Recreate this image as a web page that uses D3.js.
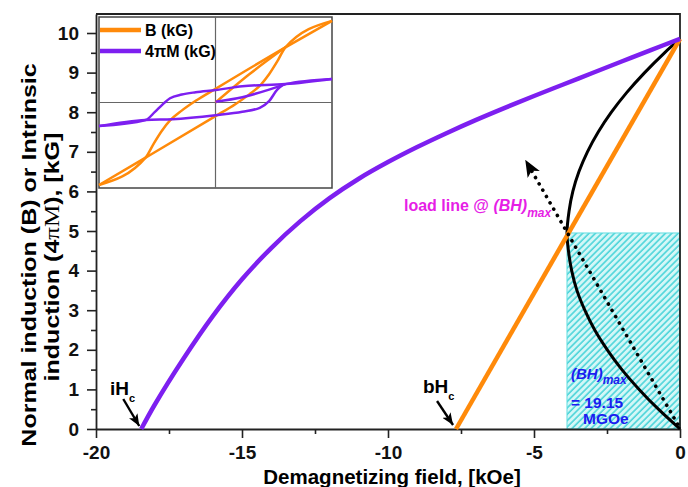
<!DOCTYPE html>
<html>
<head>
<meta charset="utf-8">
<script src="https://cdn.jsdelivr.net/npm/d3@7"></script>
<style>
  body { margin: 0; background: #fff; }
  text { font-family: "Liberation Sans", Arial, sans-serif; }
</style>
</head>
<body>
<div id="chart"></div>
<script>
// ---- values ----
const xTicks = [-20, -15, -10, -5, 0];
const xMinor = [-17.5, -12.5, -7.5, -2.5];
const yTicks = [0, 1, 2, 3, 4, 5, 6, 7, 8, 9, 10];
const yMinor = [0.5, 1.5, 2.5, 3.5, 4.5, 5.5, 6.5, 7.5, 8.5, 9.5];

// intrinsic (4piM) demagnetization curve: H [kOe], 4piM [kG]
const mH = [-18.45, -18, -17, -16, -15, -14, -13, -12, -11, -10, -9, -8, -7, -6, -5, -4, -3, -2, -1, 0];
const mB = [0, 0.6, 1.78, 2.85, 3.78, 4.57, 5.25, 5.83, 6.32, 6.74, 7.12, 7.47, 7.8, 8.11, 8.41, 8.7, 8.99, 9.28, 9.57, 9.85];

// normal induction line
const bH = [-7.67, 0];
const bB = [0, 9.85];

// energy product curve (drawn sideways against B)
const bhB = [0, 0.5, 1, 1.5, 2, 2.5, 3, 3.5, 4, 4.5, 4.95, 5.5, 6, 6.5, 7, 7.5, 8, 8.5, 9, 9.5, 9.85];
const bhX = [0, -0.74, -1.4, -1.99, -2.49, -2.92, -3.26, -3.53, -3.71, -3.82, -3.87, -3.8, -3.67, -3.46, -3.17, -2.8, -2.35, -1.82, -1.21, -0.53, 0];

const bhMaxH = -3.87, bhMaxB = 4.95, bhMaxValue = "19.15";
const loadStart = [-0.08, 0.12], loadTip = [-5.3, 6.8];
const iHc = -18.45, bHc = -7.67;

// inset hysteresis loops (normalised axes, -1..1)
const bDescU = [1.0, 0.6, 0, -0.17, -0.29, -0.39, -0.46, -0.53, -0.6, -1.0];
const bDescV = [0.955, 0.645, 0.16, 0.02, -0.095, -0.21, -0.33, -0.48, -0.645, -0.965];
const bAscU  = [-1.0, -0.6, 0, 0.17, 0.29, 0.39, 0.46, 0.53, 0.6, 1.0];
const bAscV  = [-0.965, -0.645, -0.16, -0.02, 0.095, 0.21, 0.33, 0.48, 0.645, 0.955];
const bInitU = [0, 0.29, 0.6];
const bInitV = [0, 0.33, 0.645];
const mDescU = [1.0, 0.6, 0.23, 0, -0.17, -0.29, -0.39, -0.46, -0.52, -0.6, -1.0];
const mDescV = [0.276, 0.215, 0.19, 0.145, 0.12, 0.093, 0.05, -0.03, -0.11, -0.205, -0.276];
const mAscU  = [-1.0, -0.6, -0.37, 0, 0.23, 0.38, 0.46, 0.53, 0.6, 1.0];
const mAscV  = [-0.276, -0.205, -0.195, -0.148, -0.108, -0.062, 0.015, 0.15, 0.215, 0.276];
const mInitU = [0, 0.23, 0.46, 0.6];
const mInitV = [0.01, 0.062, 0.151, 0.215];

const ORANGE = "#ff8a0a", PURPLE = "#7d1ff0";

// ---- layout ----
const W = 688, H = 487;
const svg = d3.select("#chart").append("svg")
  .attr("width", W).attr("height", H);

const x = d3.scaleLinear().domain([-20, 0]).range([96, 680]);
const y = d3.scaleLinear().domain([0, 10.48]).range([429, 14]);

const defs = svg.append("defs");
const hatch = defs.append("pattern")
  .attr("id", "hatch").attr("patternUnits", "userSpaceOnUse")
  .attr("width", 4.5).attr("height", 4.5)
  .attr("patternTransform", "rotate(45)");
hatch.append("rect").attr("width", 4.5).attr("height", 4.5).attr("fill", "#d4f7f7");
hatch.append("line").attr("x1", 1).attr("y1", 0).attr("x2", 1).attr("y2", 4.5)
  .attr("stroke", "#42d2d8").attr("stroke-width", 1.5);

function arrowMarker(id, w, h) {
  defs.append("marker").attr("id", id)
    .attr("markerUnits", "userSpaceOnUse")
    .attr("viewBox", `0 0 ${w} ${h}`)
    .attr("refX", w).attr("refY", h / 2)
    .attr("markerWidth", w).attr("markerHeight", h)
    .attr("orient", "auto")
    .append("path")
    .attr("d", `M0,0 L${w},${h / 2} L0,${h} L${w * 0.25},${h / 2} Z`)
    .attr("fill", "#000");
}
arrowMarker("bigArrow", 17, 14);
arrowMarker("smallArrow", 12, 10);

// ---- (BH)max rectangle ----
svg.append("rect")
  .attr("x", x(bhMaxH)).attr("y", y(bhMaxB))
  .attr("width", x(0) - x(bhMaxH)).attr("height", y(0) - y(bhMaxB))
  .attr("fill", "url(#hatch)")
  .attr("stroke", "#5fdde0").attr("stroke-width", 1);

// ---- axes ----
const fmt = d => String(d); // plain hyphen minus, like the original
const axisX = svg.append("g").attr("transform", `translate(0,${y(0)})`)
  .call(d3.axisBottom(x).tickValues(xTicks).tickFormat(fmt).tickSize(9).tickSizeOuter(0).tickPadding(8));
svg.append("g").attr("transform", `translate(0,${y(0)})`)
  .call(d3.axisBottom(x).tickValues(xMinor).tickSize(5).tickFormat(""))
  .select(".domain").remove();
const axisY = svg.append("g").attr("transform", `translate(${x(-20)},0)`)
  .call(d3.axisLeft(y).tickValues(yTicks).tickFormat(fmt).tickSize(9).tickSizeOuter(0).tickPadding(8));
svg.append("g").attr("transform", `translate(${x(-20)},0)`)
  .call(d3.axisLeft(y).tickValues(yMinor).tickSize(5).tickFormat(""))
  .select(".domain").remove();

svg.selectAll(".tick line").attr("stroke", "#222").attr("stroke-width", 1.6);
svg.selectAll(".domain").attr("stroke", "#222").attr("stroke-width", 1.8);
[axisX, axisY].forEach(a => a.selectAll("text")
  .attr("fill", "#111").style("font-size", "19px").style("font-weight", "bold"));

// frame top / right
svg.append("path")
  .attr("d", `M${x(-20)},${y(10.48)} H${x(0)} V${y(0)}`)
  .attr("fill", "none").attr("stroke", "#222").attr("stroke-width", 1.8);

// axis titles
svg.append("text")
  .attr("x", 392).attr("y", 484).attr("text-anchor", "middle")
  .style("font-size", "20.5px").style("font-weight", "bold")
  .text("Demagnetizing field, [kOe]");

svg.append("text")
  .attr("transform", "translate(36,255) rotate(-90) scale(1.22,1)")
  .attr("text-anchor", "middle")
  .style("font-size", "20.5px").style("font-weight", "bold")
  .text("Normal induction (B) or Intrinsic");
const yt2 = svg.append("text")
  .attr("transform", "translate(59,257) rotate(-90) scale(1.22,1)")
  .attr("text-anchor", "middle")
  .style("font-size", "20.5px").style("font-weight", "bold");
yt2.append("tspan").text("induction (4");
yt2.append("tspan").style("font-family", "'Liberation Serif', 'Times New Roman', serif")
  .style("font-weight", "normal").text("πM");
yt2.append("tspan").text("), [kG]");

// ---- curves ----
const line = d3.line().x(d => x(d[0])).y(d => y(d[1]));

svg.append("path")
  .datum(bhB.map((b, i) => [bhX[i], b]))
  .attr("d", d3.line().x(d => x(d[0])).y(d => y(d[1])).curve(d3.curveCatmullRom))
  .attr("fill", "none").attr("stroke", "#000").attr("stroke-width", 3);

svg.append("path")
  .datum(bH.map((h, i) => [h, bB[i]]))
  .attr("d", line)
  .attr("fill", "none").attr("stroke", ORANGE).attr("stroke-width", 4.5);

svg.append("path")
  .datum(mH.map((h, i) => [h, mB[i]]))
  .attr("d", line.curve(d3.curveCatmullRom))
  .attr("fill", "none").attr("stroke", PURPLE).attr("stroke-width", 4.5);

// load line
svg.append("line")
  .attr("x1", x(loadStart[0])).attr("y1", y(loadStart[1]))
  .attr("x2", x(loadTip[0])).attr("y2", y(loadTip[1]))
  .attr("stroke", "#000").attr("stroke-width", 3.6)
  .attr("stroke-linecap", "round").attr("stroke-dasharray", "0.1 7.2")
  .attr("marker-end", "url(#bigArrow)");

// ---- annotations ----
const lbl = svg.append("text").attr("x", 404).attr("y", 211)
  .attr("fill", "#e61ee6").style("font-size", "16px").style("font-weight", "bold");
lbl.append("tspan").text("load line @ ");
lbl.append("tspan").style("font-style", "italic").text("(BH)");
lbl.append("tspan").attr("dy", 6).style("font-style", "italic").style("font-size", "12px").text("max");

const blue = "#1c1cf0";
const bl = svg.append("text").attr("x", 571).attr("y", 379)
  .attr("fill", blue).style("font-size", "15px").style("font-weight", "bold");
bl.append("tspan").style("font-style", "italic").text("(BH)");
bl.append("tspan").attr("dy", 5).style("font-style", "italic").style("font-size", "12px").text("max");
svg.append("text").attr("x", 571).attr("y", 408).attr("fill", blue)
  .style("font-size", "15.5px").style("font-weight", "bold").text("= " + bhMaxValue);
svg.append("text").attr("x", 583).attr("y", 424).attr("fill", blue)
  .style("font-size", "15.5px").style("font-weight", "bold").text("MGOe");

function coercLabel(px, py, main) {
  const t = svg.append("text").attr("x", px).attr("y", py)
    .style("font-size", "19px").style("font-weight", "bold");
  t.append("tspan").text(main);
  t.append("tspan").attr("dy", 7).style("font-size", "11px").text("c");
}
coercLabel(110, 395, "iH");
coercLabel(423, 393, "bH");

function smallArrow(tx, ty, dx, dy) {
  svg.append("line")
    .attr("x1", tx + dx).attr("y1", ty + dy).attr("x2", tx).attr("y2", ty)
    .attr("stroke", "#000").attr("stroke-width", 2.4)
    .attr("marker-end", "url(#smallArrow)");
}
smallArrow(x(iHc) - 2, y(0) - 3, -16, -27);
smallArrow(x(bHc) - 3, y(0) - 4, -16, -24);

// ---- inset ----
const ix = d3.scaleLinear().domain([-1, 1]).range([99, 332]);
const iy = d3.scaleLinear().domain([-1, 1]).range([188, 17]);
const inset = svg.append("g");
inset.append("rect")
  .attr("x", ix(-1)).attr("y", iy(1))
  .attr("width", ix(1) - ix(-1)).attr("height", iy(-1) - iy(1))
  .attr("fill", "#fff").attr("stroke", "#444").attr("stroke-width", 1.5);
inset.append("line").attr("x1", ix(0)).attr("x2", ix(0)).attr("y1", iy(1)).attr("y2", iy(-1))
  .attr("stroke", "#666").attr("stroke-width", 1.2);
inset.append("line").attr("x1", ix(-1)).attr("x2", ix(1)).attr("y1", iy(0)).attr("y2", iy(0))
  .attr("stroke", "#666").attr("stroke-width", 1.2);

const iline = d3.line().x(d => ix(d[0])).y(d => iy(d[1])).curve(d3.curveMonotoneX);
const branches = [
  [bDescU, bDescV, ORANGE], [bAscU, bAscV, ORANGE], [bInitU, bInitV, ORANGE],
  [mDescU, mDescV, PURPLE], [mAscU, mAscV, PURPLE], [mInitU, mInitV, PURPLE]
];
branches.forEach(([us, vs, c]) => {
  const pts = us.map((u, i) => [u, vs[i]]).sort((a, b) => a[0] - b[0]);
  inset.append("path").datum(pts).attr("d", iline)
    .attr("fill", "none").attr("stroke", c).attr("stroke-width", 2.5);
});

// inset legend
[["B (kG)", ORANGE, 30], ["4πM (kG)", PURPLE, 51]].forEach(([name, c, ly]) => {
  inset.append("line").attr("x1", 100).attr("x2", 141).attr("y1", ly).attr("y2", ly)
    .attr("stroke", c).attr("stroke-width", 4.5);
  inset.append("text").attr("x", 145).attr("y", ly + 6)
    .style("font-size", "16px").style("font-weight", "bold").text(name);
});
</script>
</body>
</html>
